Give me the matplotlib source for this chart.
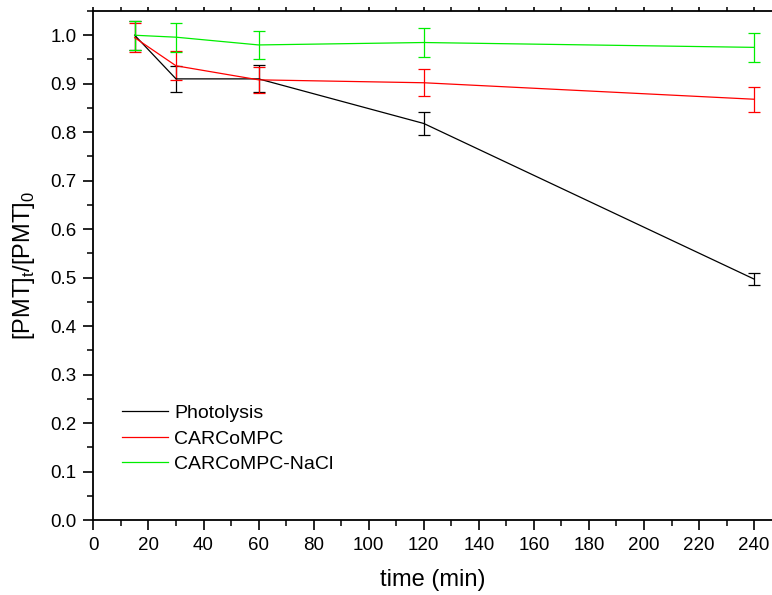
import matplotlib
matplotlib.use("Agg")
import matplotlib.pyplot as plt
from matplotlib.lines import Line2D
from matplotlib.ticker import MultipleLocator, FormatStrFormatter

plt.rcParams["font.family"] = ["Liberation Sans", "DejaVu Sans"]

time_min = [15, 30, 60, 120, 240]

photolysis = [1.0, 0.910, 0.910, 0.818, 0.497]
photolysis_err = [0.030, 0.027, 0.028, 0.024, 0.013]

carcompc = [0.995, 0.937, 0.908, 0.902, 0.868]
carcompc_err = [0.030, 0.030, 0.027, 0.028, 0.026]

carcompc_nacl = [1.0, 0.996, 0.980, 0.985, 0.975]
carcompc_nacl_err = [0.030, 0.030, 0.029, 0.030, 0.030]

series = [
    ("Photolysis", photolysis, photolysis_err, "black"),
    ("CARCoMPC", carcompc, carcompc_err, "#ff0000"),
    ("CARCoMPC-NaCl", carcompc_nacl, carcompc_nacl_err, "#00ee00"),
]

fig = plt.figure(figsize=(7.72, 5.95), dpi=100)
ax = fig.add_axes([0.121, 0.126, 0.879, 0.8555])

handles = []
for label, vals, errs, color in series:
    ax.errorbar(time_min, vals, yerr=errs, color=color, linewidth=0.9,
                elinewidth=0.9, capsize=4, capthick=0.9)
    handles.append(Line2D([], [], color=color, linewidth=0.9, label=label))

ax.set_xlim(0, 246.5)
ax.set_ylim(0, 1.05)
ax.xaxis.set_major_locator(MultipleLocator(20))
ax.xaxis.set_minor_locator(MultipleLocator(10))
ax.yaxis.set_major_locator(MultipleLocator(0.1))
ax.yaxis.set_minor_locator(MultipleLocator(0.05))
ax.yaxis.set_major_formatter(FormatStrFormatter("%.1f"))

ax.spines["right"].set_visible(False)
for s in ["left", "bottom", "top"]:
    ax.spines[s].set_linewidth(1.3)
ax.tick_params(which="major", direction="out", length=7, width=1.2,
               labelsize=13.5, pad=5)
ax.tick_params(which="minor", direction="out", length=4, width=1.1)
ax.tick_params(axis="x", which="major", top=True)
ax.tick_params(axis="x", which="minor", top=True)
ax.tick_params(axis="x", which="both", labeltop=False)
for t in ax.xaxis.get_major_ticks() + ax.xaxis.get_minor_ticks():
    t.tick2line.set_markersize(3)

ax.set_xlabel("time (min)", fontsize=17, labelpad=11)
ax.set_ylabel(r"[PMT]$_\mathregular{t}$/[PMT]$_\mathregular{0}$", fontsize=17,
              labelpad=10)

ax.legend(handles=handles, loc="lower left", bbox_to_anchor=(0.03, 0.077),
          frameon=False, fontsize=14, handlelength=2.4, handletextpad=0.3,
          labelspacing=0.4, borderaxespad=0)

fig.savefig("out.png", dpi=100)
